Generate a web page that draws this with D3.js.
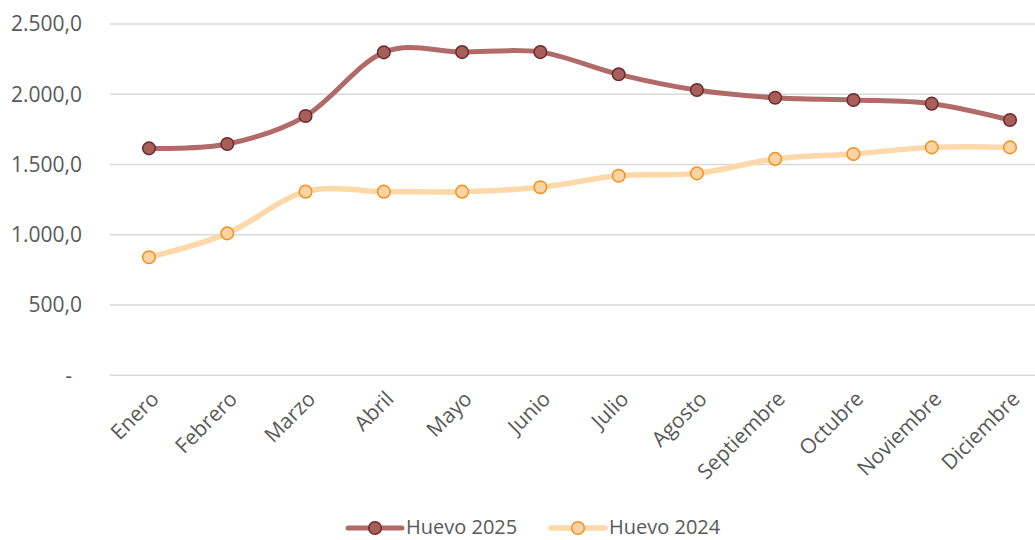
<!DOCTYPE html>
<html>
<head>
<meta charset="utf-8">
<script src="https://cdn.jsdelivr.net/npm/d3@7"></script>
<style>
  body { margin: 0; background: #fff; }
  svg { display: block; font-family: "Open Sans", sans-serif; }
  .tick-label { fill: #595959; font-size: 21px; }
  .legend-label { fill: #595959; font-size: 20px; }
</style>
</head>
<body>
<svg id="chart" width="1035" height="540"></svg>
<script>
const months = ["Enero", "Febrero", "Marzo", "Abril", "Mayo", "Junio", "Julio",
                "Agosto", "Septiembre", "Octubre", "Noviembre", "Diciembre"];
const huevo2025 = [1615, 1646, 1845, 2298, 2300, 2300, 2142, 2030, 1975, 1959, 1933, 1817];
const huevo2024 = [840, 1010, 1307, 1307, 1307, 1338, 1420, 1437, 1540, 1575, 1622, 1622];
const yTicks = [0, 500, 1000, 1500, 2000, 2500];

const series = [
  { name: "Huevo 2025", values: huevo2025, line: "#b06b68", fill: "#a85f5c", stroke: "#6b2b2b", width: 5 },
  { name: "Huevo 2024", values: huevo2024, line: "#fdd8a9", fill: "#fcd4a4", stroke: "#f5901e", width: 5.5 }
];

const svg = d3.select("#chart");

const x = d3.scalePoint().domain(months).range([149, 1010]);
const y = d3.scaleLinear().domain([0, 2500]).range([375.3, 24]);

const fmt = v => v === 0 ? "-" : d3.format(",.1f")(v).replace(/,/g, "#").replace(".", ",").replace(/#/g, ".");

// grid
svg.append("g").selectAll("line").data(yTicks).join("line")
  .attr("x1", 110).attr("x2", 1049)
  .attr("y1", d => y(d)).attr("y2", d => y(d))
  .attr("stroke", "#d9d9d9").attr("stroke-width", 1.5);

// y labels
svg.append("g").selectAll("text").data(yTicks).join("text")
  .attr("class", "tick-label")
  .attr("x", d => d === 0 ? 72 : 82)
  .attr("y", d => y(d))
  .attr("dy", "0.35em")
  .attr("text-anchor", "end")
  .text(fmt);

// x labels
svg.append("g").selectAll("text").data(months).join("text")
  .attr("class", "tick-label")
  .attr("text-anchor", "end")
  .attr("transform", d => "translate(" + (x(d) + 6) + ",395) rotate(-45)")
  .attr("dy", "0.35em")
  .text(d => d);

const line = d3.line()
  .x((d, i) => x(months[i]))
  .y(d => y(d))
  .curve(d3.curveCatmullRom.alpha(0));

// 2024 first so 2025 sits above
[series[1], series[0]].forEach(s => {
  const g = svg.append("g");
  g.append("path")
    .attr("d", line(s.values))
    .attr("fill", "none")
    .attr("stroke", s.line)
    .attr("stroke-width", s.width)
    .attr("stroke-linecap", "round");
  g.selectAll("circle").data(s.values).join("circle")
    .attr("cx", (d, i) => x(months[i]))
    .attr("cy", d => y(d))
    .attr("r", 6.3)
    .attr("fill", s.fill)
    .attr("stroke", s.stroke)
    .attr("stroke-width", 1.5);
});

// legend
const legendX = [348, 551];
series.forEach((s, i) => {
  const g = svg.append("g").attr("transform", "translate(" + legendX[i] + ",528)");
  g.append("line").attr("x1", 0).attr("x2", 54)
    .attr("stroke", s.line).attr("stroke-width", s.width).attr("stroke-linecap", "round");
  g.append("circle").attr("cx", 27).attr("r", 6.3)
    .attr("fill", s.fill).attr("stroke", s.stroke).attr("stroke-width", 1.5);
  g.append("text").attr("class", "legend-label")
    .attr("x", 58).attr("dy", "0.32em").text(s.name);
});
</script>
</body>
</html>
